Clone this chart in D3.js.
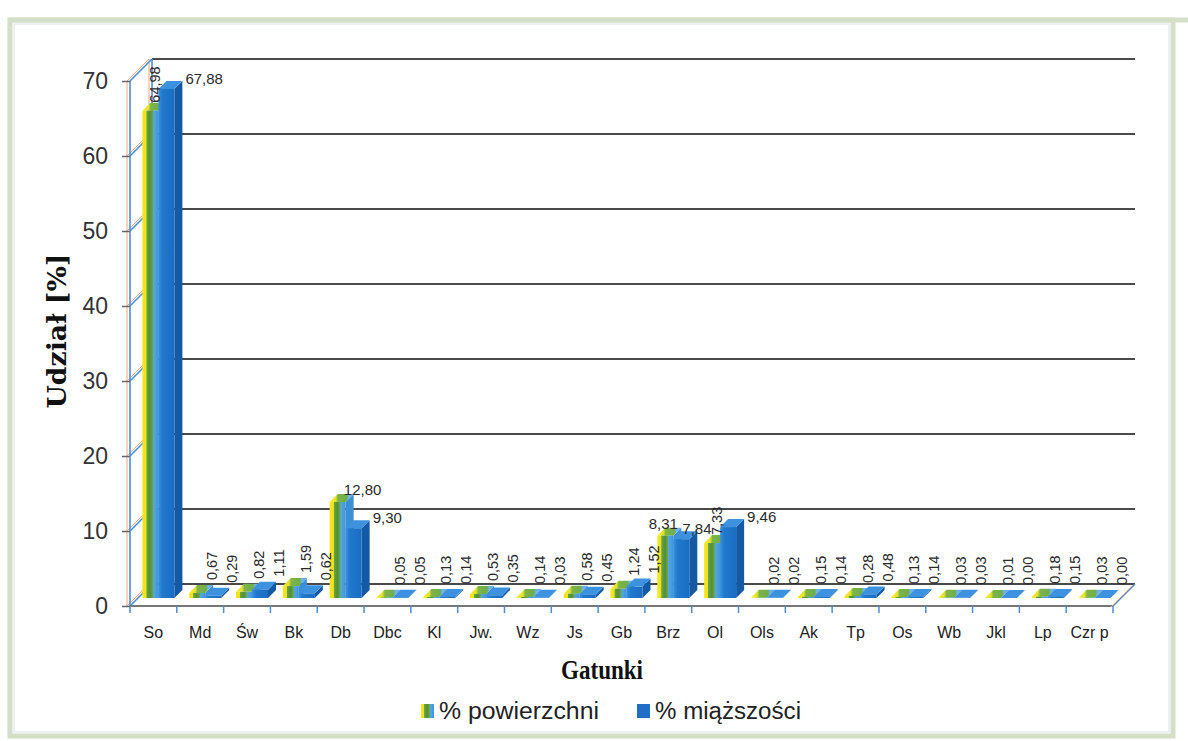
<!DOCTYPE html>
<html><head><meta charset="utf-8">
<script src="https://cdn.jsdelivr.net/npm/d3@7"></script>
<style>body{margin:0;background:#fff}svg{display:block}</style>
</head><body>
<svg id="c" width="1188" height="741"></svg>
<script>
const categories = ["So","Md","Św","Bk","Db","Dbc","Kl","Jw.","Wz","Js","Gb","Brz","Ol","Ols","Ak","Tp","Os","Wb","Jkl","Lp","Czr p"];
const powierzchni = [64.98,0.67,0.82,1.59,12.80,0.05,0.13,0.53,0.14,0.58,1.24,8.31,7.33,0.02,0.15,0.28,0.13,0.03,0.01,0.18,0.03];
const miazszosci = [67.88,0.29,1.11,0.62,9.30,0.05,0.14,0.35,0.03,0.45,1.52,7.84,9.46,0.02,0.14,0.48,0.14,0.03,0.00,0.15,0.00];
const yTicks = [0,10,20,30,40,50,60,70];
const seriesNames = ["% powierzchni","% miąższości"];
const yTitle = "Udział [%]";
const xTitle = "Gatunki";

const svg = d3.select("#c");
const defs = svg.append("defs");
const g1 = defs.append("linearGradient").attr("id","s1").attr("x1","0").attr("x2","1").attr("y1","0").attr("y2","0");
[["0%","#f4e816"],["24%","#f0e020"],["27%","#6aa443"],["48%","#4f8f3a"],["66%","#6aa84a"],["70%","#55a6e4"],["100%","#3f95da"]]
  .forEach(([o,c])=>g1.append("stop").attr("offset",o).attr("stop-color",c));
const g1t = defs.append("linearGradient").attr("id","s1t").attr("x1","0").attr("x2","1").attr("y1","0").attr("y2","0");
[["0%","#f6ec30"],["25%","#e6e22a"],["35%","#7cb548"],["70%","#6fae4a"],["80%","#6fb5ea"],["100%","#5aa8e6"]]
  .forEach(([o,c])=>g1t.append("stop").attr("offset",o).attr("stop-color",c));
const g2 = defs.append("linearGradient").attr("id","s2").attr("x1","0").attr("x2","1").attr("y1","0").attr("y2","0");
[["0%","#3b93dd"],["25%","#2079cc"],["100%","#1a6cc2"]]
  .forEach(([o,c])=>g2.append("stop").attr("offset",o).attr("stop-color",c));

// frame
svg.append("line").attr("x1",10).attr("x2",1188).attr("y1",20).attr("y2",20).attr("stroke","#d3dfc6").attr("stroke-width",5);
svg.append("rect").attr("x",10).attr("y",20).attr("width",1163).attr("height",716)
  .attr("fill","none").attr("stroke","#d3dfc6").attr("stroke-width",5);
svg.append("rect").attr("x",14).attr("y",24).attr("width",1155).attr("height",708)
  .attr("fill","none").attr("stroke","#e6ecf2").attr("stroke-width",1.5);

const x0 = 130, x1 = 1113;
const depth = [22,-22];
const y = d3.scaleLinear().domain([0,70]).range([606,81]);
const x = d3.scaleBand().domain(categories).range([x0,x1]).padding(0);

// back wall gridlines
svg.append("g").selectAll("line").data(yTicks).join("line")
  .attr("x1",x0+depth[0]).attr("x2",x1+depth[0])
  .attr("y1",d=>y(d)+depth[1]).attr("y2",d=>y(d)+depth[1])
  .attr("stroke","#4a4a4a").attr("stroke-width",2);

// left wall (blue with faint orange ghost)
const wall = svg.append("g");
[["#f2a77a",-3,1],["#4a8fd8",0,1.6]].forEach(([col,off,w])=>{
  wall.append("line").attr("x1",x0+off).attr("x2",x0+off).attr("y1",y(0)).attr("y2",y(70)).attr("stroke",col).attr("stroke-width",w);
  wall.append("line").attr("x1",x0+depth[0]+off).attr("x2",x0+depth[0]+off).attr("y1",y(0)+depth[1]).attr("y2",y(70)+depth[1]).attr("stroke",col).attr("stroke-width",w);
  wall.selectAll(null).data(yTicks).join("line")
    .attr("x1",x0+off).attr("y1",d=>y(d)).attr("x2",x0+depth[0]+off).attr("y2",d=>y(d)+depth[1])
    .attr("stroke",col).attr("stroke-width",w);
});

// floor
svg.append("line").attr("x1",x0).attr("x2",x1).attr("y1",y(0)).attr("y2",y(0)).attr("stroke","#777").attr("stroke-width",2);
svg.append("line").attr("x1",x1).attr("x2",x1+depth[0]).attr("y1",y(0)).attr("y2",y(0)+depth[1]).attr("stroke","#4a8fd8").attr("stroke-width",1.6);
svg.append("line").attr("x1",x1-2).attr("x2",x1+depth[0]-2).attr("y1",y(0)+1).attr("y2",y(0)+depth[1]+1).attr("stroke","#f2a77a").attr("stroke-width",1);

// category boundary ticks
svg.append("g").selectAll("line").data(d3.range(categories.length+1)).join("line")
  .attr("x1",i=>x0+i*x.bandwidth()).attr("x2",i=>x0+i*x.bandwidth())
  .attr("y1",y(0)).attr("y2",y(0)+7).attr("stroke","#4a8fd8").attr("stroke-width",1.5);

// y axis
const ya = svg.append("g").attr("transform",`translate(${x0},0)`)
  .call(d3.axisLeft(y).tickValues(yTicks).tickSize(8).tickPadding(14).tickFormat(d3.format("d")));
ya.select(".domain").remove();
ya.selectAll(".tick line").attr("stroke","#666").attr("stroke-width",1.5);
ya.selectAll(".tick text").attr("font-family","Liberation Sans, Arial, sans-serif").attr("font-size",23).attr("fill","#333");

// x axis labels
const xa = svg.append("g").attr("transform",`translate(0,${y(0)})`)
  .call(d3.axisBottom(x).tickSize(0).tickPadding(21));
xa.select(".domain").remove();
xa.selectAll(".tick text").attr("font-family","Liberation Sans, Arial, sans-serif").attr("font-size",16).attr("fill","#222");

// bars
const bw = 16, bd = [8,-8], baseDrop = 8;
const fmt = v => d3.format(".2f")(v).replace(".",",");
const data = [];
categories.forEach((c,i)=>{
  [powierzchni[i], miazszosci[i]].forEach((v,s)=>data.push({c,i,s,v,other: s===0?miazszosci[i]:powierzchni[i]}));
});
const bars = svg.append("g");
data.forEach(d=>{
  const cx = x(d.c) + x.bandwidth()/2;
  const bx = cx - 11 + d.s*bw;
  const yb = y(0) - baseDrop;
  const yt = y(d.v) - baseDrop;
  const grp = bars.append("g");
  const sideCol = d.s===0 ? "#3b8fd6" : "#1459a3";
  const topFill = d.s===0 ? "url(#s1t)" : "#3d92e0";
  const frontFill = d.s===0 ? "url(#s1)" : "url(#s2)";
  grp.append("path").attr("d",`M${bx+bw},${yb}L${bx+bw+bd[0]},${yb+bd[1]}L${bx+bw+bd[0]},${yt+bd[1]}L${bx+bw},${yt}Z`).attr("fill",sideCol);
  grp.append("path").attr("d",`M${bx},${yt}L${bx+bd[0]},${yt+bd[1]}L${bx+bw+bd[0]},${yt+bd[1]}L${bx+bw},${yt}Z`).attr("fill",topFill);
  grp.append("rect").attr("x",bx).attr("y",yt).attr("width",bw).attr("height",Math.max(0,yb-yt)).attr("fill",frontFill);
});

// data labels
const labels = svg.append("g").attr("font-family","Liberation Sans, Arial, sans-serif").attr("fill","#2a2a2a");
const isHoriz = (v,s,other) => v >= 5 && (s===1 || v >= other);
data.forEach(d=>{
  const cx = x(d.c) + x.bandwidth()/2;
  const topBack = y(d.v) - baseDrop + bd[1];
  const horizontal = isHoriz(d.v,d.s,d.other);
  const pairH = isHoriz(d.other,1-d.s,d.v) && horizontal && Math.abs(d.v-d.other) < 3;
  if (horizontal) {
    if (d.s===1) {
      labels.append("text").attr("x",pairH ? cx+14 : cx+32).attr("y",topBack+3).attr("font-size",15).text(fmt(d.v));
    } else {
      labels.append("text").attr("x",pairH ? cx-5 : cx+22).attr("y",topBack+1).attr("text-anchor","middle").attr("font-size",15).text(fmt(d.v));
    }
  } else {
    const lx = d.v >= 5 ? cx+2 : cx + 12 + d.s*20;
    const ly = d.v >= 5 ? topBack : topBack - 5;
    labels.append("text").attr("transform",`translate(${lx},${ly}) rotate(-90)`).attr("dy","0.35em")
      .attr("font-size",14.5).text(fmt(d.v));
  }
});

// axis titles
svg.append("text").attr("transform","translate(57,331) rotate(-90)").attr("text-anchor","middle").attr("dy","0.35em")
  .attr("font-family","DejaVu Serif, serif").attr("font-weight","bold").attr("font-size",26).attr("fill","#111")
  .attr("textLength",155).attr("lengthAdjust","spacingAndGlyphs").text(yTitle);
svg.append("text").attr("x",602).attr("y",679).attr("text-anchor","middle")
  .attr("font-family","Liberation Serif, serif").attr("font-weight","bold").attr("font-size",27).attr("fill","#111")
  .attr("textLength",82).attr("lengthAdjust","spacingAndGlyphs").text(xTitle);

// legend
const leg = svg.append("g");
const legX = [421, 637], legW = [160, 146];
seriesNames.forEach((n,s)=>{
  leg.append("rect").attr("x",legX[s]).attr("y",704).attr("width",13).attr("height",14).attr("fill",s===0?"url(#s1)":"#1f6fc5");
  leg.append("text").attr("x",legX[s]+18).attr("y",719).attr("font-family","Liberation Sans, Arial, sans-serif")
    .attr("font-size",23).attr("fill","#222").attr("textLength",legW[s]).attr("lengthAdjust","spacingAndGlyphs").text(n);
});
</script>
</body></html>
